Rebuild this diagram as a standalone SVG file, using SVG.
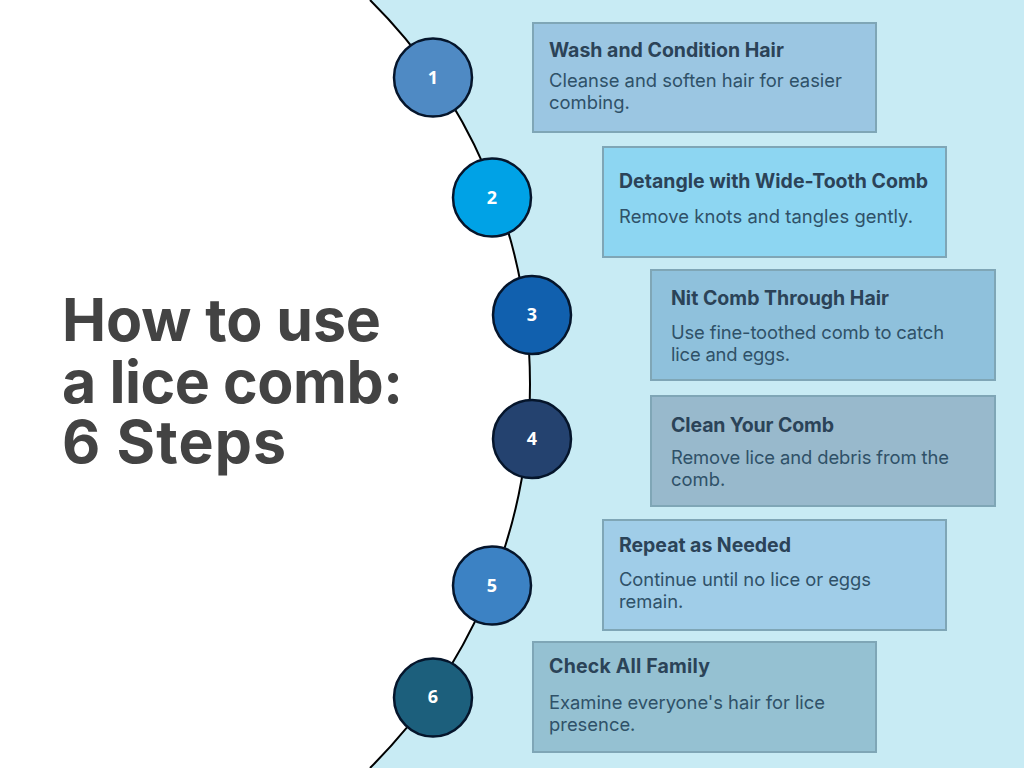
<svg xmlns="http://www.w3.org/2000/svg" width="1024" height="768" viewBox="0 0 1024 768">
<style>
text{font-family:Inter,"Noto Sans",sans-serif}
.title{font-size:59px;font-weight:700;fill:#434343}
.card{stroke:#7fa6b6;stroke-width:2}
.h{font-size:19.5px;font-weight:700;fill:#2b4358}
.b{font-size:18.4px;fill:#2f5168}
.c{stroke:#05152b;stroke-width:2.5}
.n{font-family:"Noto Sans",sans-serif;font-size:18px;font-weight:700;fill:#fff;text-anchor:middle}
.fill{fill:#fff}
.arc{fill:none;stroke:#000;stroke-width:2}
</style>
<rect width="1024" height="768" fill="#c8ebf4"/>
<path class="fill" d="M370 0A540.8 540.8 0 0 1 370 768L0 768L0 0Z"/>
<g id="connectors"><path class="arc" d="M370 0A540.8 540.8 0 0 1 370 768"/></g>
<g id="heading"><text class="title" x="62" y="341" textLength="319">How to use</text><text class="title" x="62" y="403" textLength="341">a lice comb:</text><text class="title" x="62" y="463" textLength="224">6 Steps</text></g>
<g id="node1"><circle class="c" cx="433" cy="77.5" r="39" fill="#4f8ac4"/><text class="n" x="433" y="84">1</text></g>
<g id="node2"><circle class="c" cx="492" cy="197.5" r="39" fill="#00a2e6"/><text class="n" x="492" y="204">2</text></g>
<g id="node3"><circle class="c" cx="532" cy="315" r="39" fill="#1160ae"/><text class="n" x="532" y="321">3</text></g>
<g id="node4"><circle class="c" cx="532" cy="439" r="39" fill="#24426f"/><text class="n" x="532" y="445">4</text></g>
<g id="node5"><circle class="c" cx="492" cy="585.5" r="39" fill="#3c82c4"/><text class="n" x="492" y="592">5</text></g>
<g id="node6"><circle class="c" cx="433" cy="697.5" r="39" fill="#1c5f7c"/><text class="n" x="433" y="703">6</text></g>
<g id="card1"><rect class="card" x="533" y="23" width="343" height="109" fill="#9bc6e2"/><text class="h" x="549" y="57">Wash and Condition Hair</text><text class="b" x="549" y="87" textLength="293">Cleanse and soften hair for easier</text><text class="b" x="549" y="109">combing.</text></g>
<g id="card2"><rect class="card" x="603" y="147" width="343" height="110" fill="#8dd6f2"/><text class="h" x="619" y="188" textLength="309">Detangle with Wide-Tooth Comb</text><text class="b" x="619" y="223" textLength="294">Remove knots and tangles gently.</text></g>
<g id="card3"><rect class="card" x="651" y="270" width="344" height="110" fill="#8fc1dc"/><text class="h" x="671" y="305" textLength="218">Nit Comb Through Hair</text><text class="b" x="671" y="339" textLength="273">Use fine-toothed comb to catch</text><text class="b" x="671" y="361" textLength="119">lice and eggs.</text></g>
<g id="card4"><rect class="card" x="651" y="396" width="344" height="110" fill="#98b9cc"/><text class="h" x="671" y="432" textLength="163">Clean Your Comb</text><text class="b" x="671" y="464" textLength="278">Remove lice and debris from the</text><text class="b" x="671" y="486">comb.</text></g>
<g id="card5"><rect class="card" x="603" y="520" width="343" height="110" fill="#a0cde8"/><text class="h" x="619" y="552" textLength="172">Repeat as Needed</text><text class="b" x="619" y="586" textLength="252">Continue until no lice or eggs</text><text class="b" x="619" y="608">remain.</text></g>
<g id="card6"><rect class="card" x="533" y="642" width="343" height="110" fill="#95c1d2"/><text class="h" x="549" y="673" textLength="161">Check All Family</text><text class="b" x="549" y="709" textLength="276">Examine everyone's hair for lice</text><text class="b" x="549" y="731">presence.</text></g>
</svg>
